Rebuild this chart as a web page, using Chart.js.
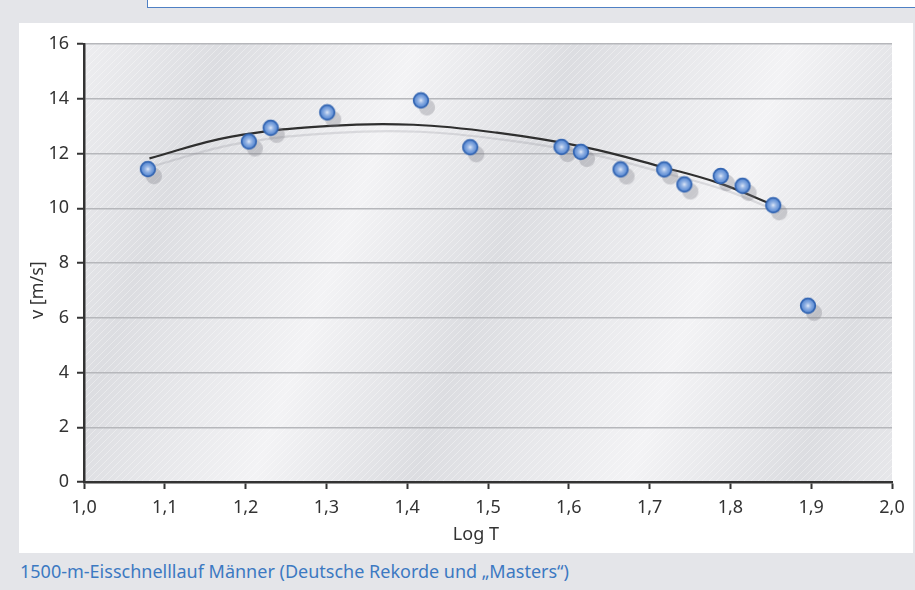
<!DOCTYPE html>
<html>
<head>
<meta charset="utf-8">
<script src="https://cdn.jsdelivr.net/npm/chart.js@4/dist/chart.umd.min.js"></script>
<style>
  html, body { margin: 0; padding: 0; }
  body { width: 915px; height: 590px; background: #e4e5e9; position: relative; overflow: hidden; font-family: "Noto Sans", sans-serif; }
  #topbox { position: absolute; left: 147px; top: -1px; width: 770px; height: 8px; background: #fff; border-left: 1px solid #4f80c4; border-bottom: 1px solid #4f80c4; }
  #panel { position: absolute; left: 19px; top: 23px; width: 894px; height: 530px; background: #fff; }
  #caption { position: absolute; left: 20px; top: 559px; font-size: 18px; color: #3c79c2; white-space: nowrap; }
</style>
</head>
<body>
<div id="topbox"></div>
<div id="panel"><canvas id="c" width="894" height="530"></canvas></div>
<div id="caption">1500-m-Eisschnelllauf Männer (Deutsche Rekorde und „Masters“)</div>
<script>
// ---- data ----
const recordLogT = [1.079, 1.204, 1.231, 1.301, 1.417, 1.478, 1.591, 1.615, 1.664, 1.718, 1.743, 1.788, 1.815, 1.853, 1.896];
const recordSpeed = [11.43, 12.44, 12.94, 13.50, 13.94, 12.23, 12.24, 12.06, 11.42, 11.42, 10.87, 11.18, 10.82, 10.11, 6.44];
const trendLogT = [1.081, 1.181, 1.305, 1.408, 1.511, 1.618, 1.718, 1.787, 1.853];
const trendSpeed = [11.82, 12.61, 13.01, 13.05, 12.76, 12.24, 11.49, 10.91, 10.12];
const xTickMin = 1.0, xTickMax = 2.0, xStep = 0.1;
const yTickMin = 0, yTickMax = 16, yStep = 2;
const xTitle = 'Log T';
const yTitle = 'v [m/s]';

// ---- styles ----
const FONT = '"Noto Sans", sans-serif';
const ink = '#333333';

function makePointImage() {
  const c = document.createElement('canvas');
  c.width = 18; c.height = 18;
  const g = c.getContext('2d');
  const rg = g.createRadialGradient(9, 9, 0, 9, 9, 7.5);
  rg.addColorStop(0, '#e6eefa');
  rg.addColorStop(0.25, '#a9c2ea');
  rg.addColorStop(0.5, '#84a8df');
  rg.addColorStop(0.8, '#6391d6');
  rg.addColorStop(1, '#4f80cb');
  g.beginPath();
  g.arc(9, 9, 7.3, 0, Math.PI * 2);
  g.fillStyle = rg;
  g.fill();
  g.lineWidth = 1.7;
  g.strokeStyle = '#3365b2';
  g.stroke();
  return c;
}
const pointImg = makePointImage();

function makeHatch() {
  const c = document.createElement('canvas');
  c.width = 7; c.height = 7;
  const g = c.getContext('2d');
  g.strokeStyle = 'rgba(255,255,255,0.45)';
  g.lineWidth = 0.8;
  g.beginPath();
  g.moveTo(-1, 8); g.lineTo(8, -1);
  g.stroke();
  return c;
}
const hatchCanvas = makeHatch();

const bgPlugin = {
  id: 'plotBg',
  beforeDraw(chart) {
    const { ctx, chartArea: a } = chart;
    const L = 1100;
    const grad = ctx.createLinearGradient(0, 0, 0.936 * L, 0.351 * L);
    const light = '#f3f3f5', dark = '#dcdde1';
    grad.addColorStop(0, '#eeeef1');
    grad.addColorStop(0.024, light);
    grad.addColorStop(0.181, dark);
    grad.addColorStop(0.345, light);
    grad.addColorStop(0.481, dark);
    grad.addColorStop(0.665, light);
    grad.addColorStop(0.807, dark);
    grad.addColorStop(0.986, light);
    grad.addColorStop(1, light);
    ctx.save();
    ctx.fillStyle = grad;
    ctx.fillRect(a.left, a.top, a.right - a.left, a.bottom - a.top);
    ctx.fillStyle = ctx.createPattern(hatchCanvas, 'repeat');
    ctx.fillRect(a.left, a.top, a.right - a.left, a.bottom - a.top);
    ctx.restore();
  }
};

const shadowPlugin = {
  id: 'shadows',
  beforeDatasetDraw(chart, args) {
    const ctx = chart.ctx;
    ctx.save();
    if (args.index === 0) {
      ctx.shadowColor = 'rgba(120,122,132,0.32)';
    } else {
      ctx.shadowColor = 'rgba(130,132,142,0.22)';
    }
    ctx.shadowOffsetX = 6;
    ctx.shadowOffsetY = 7;
    ctx.shadowBlur = 0;
  },
  afterDatasetDraw(chart) {
    chart.ctx.restore();
  }
};

const titlesPlugin = {
  id: 'axisTitles',
  afterDraw(chart) {
    const ctx = chart.ctx;
    const a = chart.chartArea;
    ctx.save();
    ctx.font = '18px ' + FONT;
    ctx.fillStyle = ink;
    ctx.textAlign = 'center';
    ctx.textBaseline = 'middle';
    // x title
    ctx.fillText(xTitle, a.left + (a.right - a.left) * 0.485, a.bottom + 53);
    // y title
    ctx.translate(19, a.top + (a.bottom - a.top) * 0.562);
    ctx.rotate(-Math.PI / 2);
    ctx.fillText(yTitle, 0, 0);
    ctx.restore();
  }
};

const recordPoints = recordLogT.map((x, i) => ({ x, y: recordSpeed[i] }));
const trendPoints = trendLogT.map((x, i) => ({ x, y: trendSpeed[i] }));

new Chart(document.getElementById('c'), {
  type: 'scatter',
  data: {
    datasets: [
      {
        label: 'Rekorde',
        data: recordPoints,
        pointStyle: pointImg,
        pointRadius: 8,
        pointHoverRadius: 8,
        order: 0
      },
      {
        label: 'Trend',
        type: 'line',
        data: trendPoints,
        showLine: true,
        borderColor: '#2f2f2f',
        borderWidth: 2.2,
        pointRadius: 0,
        fill: false,
        tension: 0.4,
        order: 1
      }
    ]
  },
  plugins: [bgPlugin, shadowPlugin, titlesPlugin],
  options: {
    responsive: false,
    animation: false,
    events: [],
    layout: { padding: { left: 0, right: 21, top: 21, bottom: 0 } },
    plugins: { legend: { display: false }, tooltip: { enabled: false } },
    scales: {
      x: {
        type: 'linear',
        min: xTickMin, max: xTickMax,
        afterFit(s) { s.height = 71; },
        ticks: {
          stepSize: xStep,
          color: ink,
          padding: 8,
          font: { family: FONT, size: 18 },
          callback: v => v.toFixed(1).replace('.', ',')
        },
        grid: { drawOnChartArea: false, drawTicks: true, tickLength: 7, tickColor: ink, tickWidth: 2 },
        border: { color: ink, width: 2.5 },
        title: { display: false }
      },
      y: {
        type: 'linear',
        min: yTickMin, max: yTickMax,
        afterFit(s) { s.width = 65; },
        ticks: {
          stepSize: yStep,
          color: ink,
          padding: 8,
          font: { family: FONT, size: 18 }
        },
        grid: { color: '#b6b7bb', lineWidth: 1.5, drawTicks: true, tickLength: 7, tickColor: ink, tickWidth: 2 },
        border: { color: ink, width: 2.5 }
      }
    }
  }
});
</script>
</body>
</html>
